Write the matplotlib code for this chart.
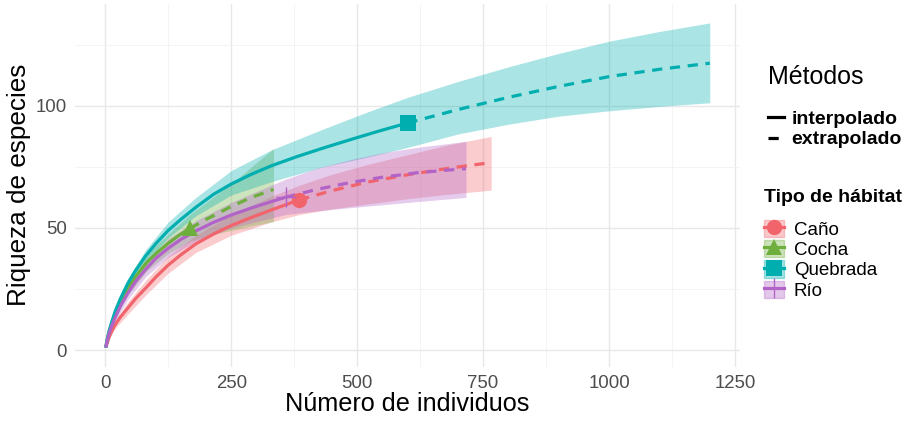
import matplotlib
matplotlib.use("Agg")
import matplotlib.pyplot as plt
from matplotlib.lines import Line2D
from matplotlib.patches import Patch
from matplotlib.legend_handler import HandlerTuple

plt.rcParams['font.family'] = ['Liberation Sans', 'DejaVu Sans']

habitats = ["Caño", "Cocha", "Quebrada", "Río"]
colors = ["#F1646C", "#6DAE3C", "#00AEB0", "#B163C8"]
markers = ["o", "^", "s", "+"]

# Caño
cano_n_int = [1, 4, 8, 13, 20, 30, 44, 60, 80, 100, 125, 150, 180, 215, 250, 290, 330, 385]
cano_s_int = [1, 3, 5.5, 7.8, 10.5, 13.5, 17, 21, 25.3, 29.8, 34.8, 39, 43.5, 47.5, 51, 54.3, 57.4, 61.5]
cano_n_ext = [385, 450, 520, 600, 680, 766]
cano_s_ext = [61.5, 65.3, 68.8, 71.8, 74.4, 76.8]
cano_band_n = [1, 10, 20, 44, 80, 125, 180, 250, 330, 385, 450, 520, 600, 680, 766]
cano_lo = [1, 5.5, 9, 14.5, 22.5, 31.5, 40, 47, 52.5, 55.5, 57.8, 59.8, 62, 63.8, 65.5]
cano_hi = [1, 7.5, 12, 19.5, 28.5, 38.5, 47, 55.5, 63, 67.5, 72, 76, 80, 84, 87.5]

# Cocha
cocha_n_int = [1, 4, 8, 13, 20, 30, 44, 60, 83, 105, 125, 145, 168]
cocha_s_int = [1, 4.3, 7.8, 11, 15, 19.8, 25, 30, 36, 40.3, 43.7, 46.8, 49.8]
cocha_n_ext = [168, 200, 250, 290, 334]
cocha_s_ext = [49.8, 53.5, 58.8, 62.5, 65.8]
cocha_band_n = [1, 10, 20, 44, 83, 125, 168, 210, 250, 290, 334]
cocha_lo = [1, 8, 13, 22.5, 32.5, 39.5, 44.5, 47.2, 49, 50.8, 52.6]
cocha_hi = [1, 10, 17, 27.5, 39.5, 47.5, 55.5, 62, 68, 75, 82.5]

# Quebrada
queb_n_int = [1, 4, 8, 13, 20, 30, 44, 60, 80, 100, 125, 150, 180, 215, 250, 290, 330,
              380, 432, 490, 545, 600]
queb_s_int = [1, 4.5, 8, 11.5, 16, 21, 27, 32.5, 38.5, 43.5, 49, 53.5, 58.5, 63.8, 68, 72,
              75.5, 79.2, 82.7, 86.4, 89.8, 93]
queb_n_ext = [600, 700, 800, 900, 1000, 1100, 1200]
queb_s_ext = [93, 98.5, 103.5, 108, 112, 115, 117.5]
queb_band_n = [1, 10, 20, 44, 80, 125, 180, 250, 330, 432, 520, 600, 700, 800, 900, 1000,
               1100, 1200]
queb_lo = [1, 8.5, 14.5, 25, 36, 46, 55, 63.5, 69, 75, 79, 83, 88.5, 92.5, 95.8, 98,
           99.8, 101.3]
queb_hi = [1, 10.5, 17.5, 29, 41, 52.5, 62.5, 73.5, 82, 90.5, 97.5, 103.5, 110, 116,
           121.5, 126.5, 130.5, 134]

# Río
rio_n_int = [1, 4, 8, 13, 20, 30, 44, 60, 80, 100, 125, 150, 180, 215, 250, 290, 330, 358]
rio_s_int = [1, 4, 7, 10, 13.5, 18, 23, 28, 33, 37.5, 41.7, 45.3, 48.8, 52.3, 55.3, 58.2, 60.8, 62.6]
rio_n_ext = [358, 420, 486, 550, 618, 680, 716]
rio_s_ext = [62.6, 65.8, 68.6, 70.8, 72.6, 73.7, 74.3]
rio_band_n = [1, 10, 20, 44, 80, 125, 180, 250, 358, 420, 486, 550, 618, 716]
rio_lo = [1, 7.5, 12, 20.5, 30, 38, 44.5, 50, 55.5, 57, 58.3, 59.5, 60.8, 62.5]
rio_hi = [1, 9.5, 15, 25.5, 36, 45.5, 53, 60.5, 70, 74.5, 78, 80.8, 83, 85.5]

series = [
    (cano_n_int, cano_s_int, cano_n_ext, cano_s_ext, cano_band_n, cano_lo, cano_hi),
    (cocha_n_int, cocha_s_int, cocha_n_ext, cocha_s_ext, cocha_band_n, cocha_lo, cocha_hi),
    (queb_n_int, queb_s_int, queb_n_ext, queb_s_ext, queb_band_n, queb_lo, queb_hi),
    (rio_n_int, rio_s_int, rio_n_ext, rio_s_ext, rio_band_n, rio_lo, rio_hi),
]

x_ticks = [0, 250, 500, 750, 1000, 1250]
y_ticks = [0, 50, 100]

fig = plt.figure(figsize=(9.06, 4.22), dpi=100)
ax = fig.add_axes([0.0828, 0.1315, 0.734, 0.859])

BAND_ALPHA = 0.33
LW = 2.3
DASH = (3.2, 2.4)
for (ni, si, ne, se, bn, lo, hi), c in zip(series, colors):
    ax.fill_between(bn, lo, hi, color=c, alpha=BAND_ALPHA, linewidth=0, zorder=2)
for (ni, si, ne, se, bn, lo, hi), c, m in zip(series, colors, markers):
    ax.plot(ni, si, color=c, lw=LW, solid_capstyle='butt', solid_joinstyle='round', zorder=3)
    ax.plot(ne, se, color=c, lw=LW, dashes=DASH, zorder=3)
    if m == "+":
        ax.plot([ni[-1]], [si[-1]], marker=m, color=c, ms=15, mew=1.0, zorder=4)
    else:
        ax.plot([ni[-1]], [si[-1]], marker=m, color=c, ms=11, mew=0, zorder=4)

ax.set_xlim(-60, 1260)
ax.set_ylim(-6.75, 141.75)
ax.set_xticks(x_ticks)
ax.set_yticks(y_ticks)
ax.set_xticks([125, 375, 625, 875, 1125], minor=True)
ax.set_yticks([25, 75, 125], minor=True)
ax.grid(which='major', color='#E8E8E8', lw=1.0, zorder=0)
ax.grid(which='minor', color='#F2F2F2', lw=0.6, zorder=0)
ax.set_axisbelow(True)
for s in ax.spines.values():
    s.set_visible(False)
ax.tick_params(which='both', length=0, labelsize=13.4, labelcolor='#4D4D4D', pad=6)
ax.set_xlabel("Número de individuos", fontsize=18.2, labelpad=0)
ax.set_ylabel("Riqueza de especies", fontsize=18.8, labelpad=3)

# Legend: methods
meth_handles = [Line2D([], [], color='black', lw=2.3),
                Line2D([], [], color='black', lw=2.3, dashes=DASH)]
leg1 = fig.legend(meth_handles, ["interpolado", "extrapolado"], title="Métodos",
                  loc='upper left', bbox_to_anchor=(0.8477, 0.845), frameon=False,
                  prop={'weight': 'bold', 'size': 14}, title_fontsize=18,
                  handlelength=0.8, handletextpad=0.4, labelspacing=0.15,
                  borderpad=0, borderaxespad=0, alignment='left')
leg1._legend_box.sep = 15

hab_handles = []
for c, m in zip(colors, markers):
    patch = Patch(facecolor=c, alpha=0.35, edgecolor=c, lw=1.0)
    line = Line2D([], [], color=c, lw=2.3)
    if m == "+":
        mk = Line2D([], [], color=c, marker=m, ms=15, mew=1.0, ls='none')
    else:
        mk = Line2D([], [], color=c, marker=m, ms=11, mew=0, ls='none')
    hab_handles.append((patch, line, mk))
leg2 = fig.legend(hab_handles, habitats, title="Tipo de hábitat",
                  loc='upper left', bbox_to_anchor=(0.843, 0.5528), frameon=False,
                  prop={'size': 13.5}, title_fontproperties={'weight': 'bold', 'size': 14},
                  handler_map={tuple: HandlerTuple(ndivide=1)},
                  handlelength=1.07, handleheight=1.05, handletextpad=0.53, labelspacing=0.065,
                  borderpad=0, borderaxespad=0, alignment='left')
leg2._legend_box.sep = 10

fig.savefig("out.png", dpi=100)
